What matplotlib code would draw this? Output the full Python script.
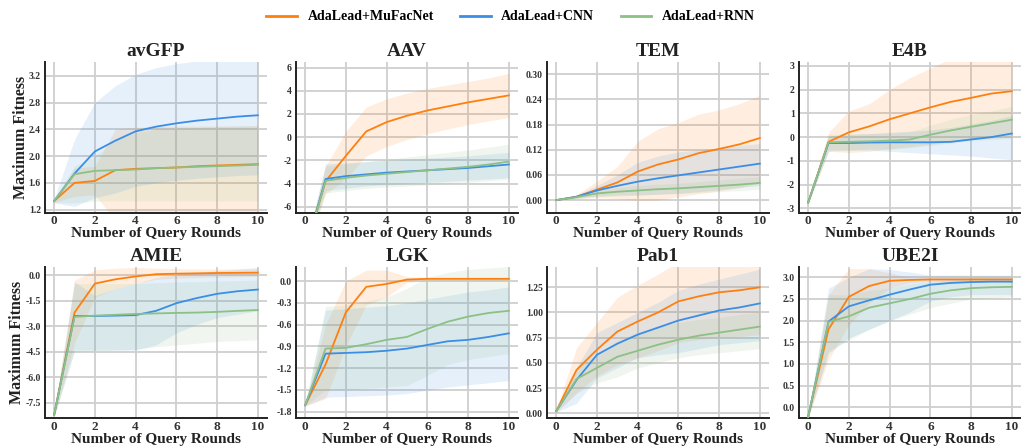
import matplotlib
matplotlib.use("Agg")
import matplotlib.pyplot as plt
from matplotlib.ticker import FormatStrFormatter
import numpy as np

rounds = list(range(11))
series_names = ["AdaLead+MuFacNet", "AdaLead+CNN", "AdaLead+RNN"]
colors = ["#ff7f0e", "#3a8ee6", "#8cc084"]
titles = ["avGFP", "AAV", "TEM", "E4B", "AMIE", "LGK", "Pab1", "UBE2I"]

# ---- avGFP ----
avgfp_muf = [1.33, 1.60, 1.63, 1.79, 1.81, 1.82, 1.83, 1.85, 1.86, 1.87, 1.88]
avgfp_muf_hi = [1.35, 1.82, 1.85, 2.40, 2.43, 2.44, 2.45, 2.45, 2.45, 2.45, 2.45]
avgfp_muf_lo = [1.31, 1.40, 1.42, 1.05, 1.05, 1.05, 1.05, 1.05, 1.05, 1.05, 1.05]
avgfp_cnn = [1.33, 1.74, 2.07, 2.23, 2.37, 2.44, 2.49, 2.53, 2.56, 2.59, 2.61]
avgfp_cnn_hi = [1.36, 2.25, 2.80, 3.05, 3.22, 3.32, 3.38, 3.42, 3.45, 3.48, 3.50]
avgfp_cnn_lo = [1.30, 1.25, 1.38, 1.45, 1.55, 1.60, 1.64, 1.67, 1.69, 1.71, 1.72]
avgfp_rnn = [1.33, 1.73, 1.78, 1.79, 1.80, 1.82, 1.83, 1.84, 1.85, 1.86, 1.87]
avgfp_rnn_hi = [1.35, 1.85, 2.00, 2.25, 2.35, 2.40, 2.42, 2.43, 2.44, 2.45, 2.46]
avgfp_rnn_lo = [1.31, 1.30, 1.33, 1.33, 1.33, 1.33, 1.33, 1.33, 1.33, 1.33, 1.33]

# ---- AAV ----
aav_muf = [-9.8, -3.8, -1.6, 0.5, 1.3, 1.85, 2.3, 2.65, 3.0, 3.3, 3.6]
aav_muf_hi = [-9.6, -2.5, 0.5, 2.6, 3.3, 3.8, 4.2, 4.5, 4.8, 5.1, 5.5]
aav_muf_lo = [-10.0, -4.9, -3.6, -1.6, -0.8, -0.2, 0.3, 0.7, 1.1, 1.4, 1.7]
aav_cnn = [-9.8, -3.6, -3.35, -3.2, -3.05, -2.95, -2.85, -2.75, -2.65, -2.5, -2.35]
aav_cnn_hi = [-9.6, -2.3, -2.2, -2.1, -2.0, -1.9, -1.8, -1.7, -1.6, -1.45, -1.3]
aav_cnn_lo = [-10.0, -4.6, -4.4, -4.2, -4.1, -4.0, -3.9, -3.8, -3.7, -3.6, -3.5]
aav_rnn = [-9.8, -3.75, -3.5, -3.3, -3.15, -3.0, -2.85, -2.7, -2.55, -2.35, -2.1]
aav_rnn_hi = [-9.6, -2.5, -2.3, -2.1, -1.9, -1.7, -1.5, -1.3, -1.1, -0.85, -0.6]
aav_rnn_lo = [-10.0, -4.8, -4.6, -4.4, -4.3, -4.2, -4.1, -4.0, -3.9, -3.75, -3.6]

# ---- TEM ----
tem_muf = [0, 0.008, 0.025, 0.042, 0.068, 0.085, 0.097, 0.112, 0.122, 0.133, 0.148]
tem_muf_hi = [0.001, 0.013, 0.045, 0.08, 0.14, 0.17, 0.185, 0.205, 0.215, 0.23, 0.25]
tem_muf_lo = [0, 0.004, 0.006, 0.004, -0.001, 0.0, 0.008, 0.015, 0.022, 0.03, 0.04]
tem_cnn = [0, 0.008, 0.023, 0.034, 0.044, 0.052, 0.059, 0.066, 0.073, 0.080, 0.087]
tem_cnn_hi = [0.001, 0.012, 0.035, 0.06, 0.09, 0.105, 0.115, 0.12, 0.125, 0.13, 0.135]
tem_cnn_lo = [0, 0.004, 0.01, 0.012, 0.012, 0.014, 0.016, 0.02, 0.025, 0.03, 0.035]
tem_rnn = [0, 0.007, 0.016, 0.020, 0.023, 0.026, 0.028, 0.031, 0.034, 0.037, 0.041]
tem_rnn_hi = [0.001, 0.01, 0.025, 0.03, 0.035, 0.038, 0.04, 0.044, 0.048, 0.052, 0.056]
tem_rnn_lo = [0, 0.004, 0.008, 0.01, 0.012, 0.014, 0.016, 0.018, 0.02, 0.023, 0.026]

# ---- E4B ----
e4b_muf = [-2.75, -0.2, 0.2, 0.45, 0.75, 1.0, 1.25, 1.48, 1.65, 1.83, 1.93]
e4b_muf_hi = [-2.7, 0.2, 1.1, 1.4, 2.0, 2.5, 2.9, 3.3, 3.5, 3.6, 3.7]
e4b_muf_lo = [-2.8, -0.6, -0.65, -0.6, -0.5, -0.4, -0.3, -0.2, -0.1, -0.05, 0.0]
e4b_cnn = [-2.75, -0.25, -0.25, -0.23, -0.22, -0.22, -0.22, -0.2, -0.1, 0.0, 0.15]
e4b_cnn_hi = [-2.7, 0.05, 0.1, 0.15, 0.2, 0.25, 0.3, 0.4, 0.55, 0.7, 0.9]
e4b_cnn_lo = [-2.8, -0.55, -0.55, -0.55, -0.6, -0.65, -0.7, -0.75, -0.8, -0.88, -0.95]
e4b_rnn = [-2.75, -0.22, -0.2, -0.18, -0.15, -0.1, 0.1, 0.28, 0.43, 0.58, 0.73]
e4b_rnn_hi = [-2.7, 0.1, 0.15, 0.15, 0.18, 0.22, 0.5, 0.75, 0.95, 1.1, 1.3]
e4b_rnn_lo = [-2.8, -0.6, -0.55, -0.5, -0.5, -0.45, -0.35, -0.25, -0.15, -0.1, -0.05]

# ---- AMIE ----
amie_muf = [-8.2, -2.2, -0.5, -0.25, -0.08, 0.05, 0.08, 0.1, 0.12, 0.13, 0.14]
amie_muf_hi = [-8.1, -0.3, 0.3, 0.4, 0.45, 0.4, 0.38, 0.36, 0.35, 0.35, 0.35]
amie_muf_lo = [-8.3, -4.0, -1.3, -0.8, -0.5, -0.25, -0.18, -0.15, -0.12, -0.1, -0.08]
amie_cnn = [-8.2, -2.4, -2.4, -2.38, -2.35, -2.1, -1.65, -1.35, -1.1, -0.95, -0.85]
amie_cnn_hi = [-8.1, -0.4, -1.2, -0.8, -0.5, -0.15, 0.05, 0.15, 0.25, 0.35, 0.45]
amie_cnn_lo = [-8.3, -4.4, -4.4, -4.4, -4.4, -4.1, -3.4, -2.9, -2.5, -2.3, -2.1]
amie_rnn = [-8.2, -2.45, -2.38, -2.33, -2.28, -2.25, -2.22, -2.2, -2.16, -2.1, -2.05]
amie_rnn_hi = [-8.1, -0.5, -0.5, -0.5, -0.5, -0.45, -0.4, -0.38, -0.35, -0.32, -0.3]
amie_rnn_lo = [-8.3, -4.5, -4.45, -4.4, -4.35, -4.2, -4.1, -4.0, -3.9, -3.85, -3.8]

# ---- LGK ----
lgk_muf = [-1.71, -1.15, -0.43, -0.08, -0.04, 0.02, 0.03, 0.03, 0.03, 0.03, 0.03]
lgk_muf_hi = [-1.70, -0.6, 0.0, 0.15, 0.15, 0.06, 0.05, 0.05, 0.05, 0.05, 0.05]
lgk_muf_lo = [-1.72, -1.62, -0.9, -0.33, -0.22, -0.02, 0.01, 0.01, 0.01, 0.01, 0.01]
lgk_cnn = [-1.71, -1.0, -0.99, -0.98, -0.96, -0.93, -0.88, -0.83, -0.81, -0.77, -0.72]
lgk_cnn_hi = [-1.70, -0.4, -0.38, -0.36, -0.34, -0.3, -0.25, -0.2, -0.15, -0.12, -0.08]
lgk_cnn_lo = [-1.72, -1.6, -1.59, -1.58, -1.57, -1.55, -1.5, -1.46, -1.43, -1.4, -1.37]
lgk_rnn = [-1.71, -0.93, -0.92, -0.87, -0.81, -0.77, -0.66, -0.56, -0.49, -0.44, -0.41]
lgk_rnn_hi = [-1.70, -0.35, -0.33, -0.28, -0.22, -0.1, 0.05, 0.12, 0.16, 0.18, 0.2]
lgk_rnn_lo = [-1.72, -1.5, -1.5, -1.48, -1.46, -1.44, -1.3, -1.15, -1.08, -1.04, -1.0]

# ---- Pab1 ----
pab1_muf = [0.02, 0.43, 0.63, 0.81, 0.91, 1.0, 1.11, 1.16, 1.2, 1.22, 1.25]
pab1_muf_hi = [0.03, 0.65, 0.9, 1.15, 1.27, 1.38, 1.5, 1.55, 1.6, 1.62, 1.65]
pab1_muf_lo = [0.01, 0.2, 0.37, 0.48, 0.55, 0.62, 0.7, 0.73, 0.75, 0.76, 0.78]
pab1_cnn = [0.02, 0.33, 0.58, 0.69, 0.78, 0.85, 0.92, 0.97, 1.02, 1.05, 1.09]
pab1_cnn_hi = [0.03, 0.45, 0.8, 0.9, 1.0, 1.1, 1.22, 1.28, 1.33, 1.38, 1.43]
pab1_cnn_lo = [0.01, 0.1, 0.35, 0.45, 0.55, 0.58, 0.6, 0.64, 0.68, 0.7, 0.72]
pab1_rnn = [0.02, 0.34, 0.45, 0.56, 0.62, 0.68, 0.73, 0.77, 0.80, 0.83, 0.86]
pab1_rnn_hi = [0.03, 0.45, 0.58, 0.72, 0.8, 0.86, 0.9, 0.93, 0.95, 0.98, 1.0]
pab1_rnn_lo = [0.01, 0.2, 0.3, 0.36, 0.45, 0.5, 0.55, 0.58, 0.6, 0.62, 0.64]

# ---- UBE2I ----
ube2i_muf = [-0.22, 1.8, 2.55, 2.8, 2.92, 2.94, 2.95, 2.95, 2.95, 2.95, 2.95]
ube2i_muf_hi = [-0.2, 2.6, 3.2, 3.2, 3.1, 3.0, 3.0, 3.0, 3.0, 3.0, 3.0]
ube2i_muf_lo = [-0.24, 1.1, 1.9, 2.4, 2.75, 2.88, 2.9, 2.9, 2.9, 2.9, 2.9]
ube2i_cnn = [-0.22, 1.98, 2.33, 2.47, 2.6, 2.72, 2.83, 2.87, 2.89, 2.9, 2.9]
ube2i_cnn_hi = [-0.2, 2.75, 3.0, 3.2, 3.18, 3.12, 3.05, 3.05, 3.05, 3.05, 3.05]
ube2i_cnn_lo = [-0.24, 1.25, 1.6, 1.8, 2.0, 2.2, 2.45, 2.55, 2.6, 2.6, 2.6]
ube2i_rnn = [-0.22, 1.97, 2.1, 2.3, 2.4, 2.5, 2.62, 2.7, 2.75, 2.77, 2.78]
ube2i_rnn_hi = [-0.2, 2.6, 2.6, 2.7, 2.75, 2.85, 2.9, 2.95, 3.0, 3.0, 3.0]
ube2i_rnn_lo = [-0.24, 1.3, 1.55, 1.8, 2.0, 2.15, 2.3, 2.4, 2.5, 2.52, 2.55]

# y-axis ticks per panel
avgfp_yticks = [1.2, 1.6, 2.0, 2.4, 2.8, 3.2]
aav_yticks = [-6, -4, -2, 0, 2, 4, 6]
tem_yticks = [0.00, 0.06, 0.12, 0.18, 0.24, 0.30]
e4b_yticks = [-3, -2, -1, 0, 1, 2, 3]
amie_yticks = [-7.5, -6.0, -4.5, -3.0, -1.5, 0.0]
lgk_yticks = [-1.8, -1.5, -1.2, -0.9, -0.6, -0.3, 0.0]
pab1_yticks = [0.00, 0.25, 0.50, 0.75, 1.00, 1.25]
ube2i_yticks = [0.0, 0.5, 1.0, 1.5, 2.0, 2.5, 3.0]
xticks = [0, 2, 4, 6, 8, 10]

panels = [
    (avgfp_muf, avgfp_muf_lo, avgfp_muf_hi, avgfp_cnn, avgfp_cnn_lo, avgfp_cnn_hi, avgfp_rnn, avgfp_rnn_lo, avgfp_rnn_hi),
    (aav_muf, aav_muf_lo, aav_muf_hi, aav_cnn, aav_cnn_lo, aav_cnn_hi, aav_rnn, aav_rnn_lo, aav_rnn_hi),
    (tem_muf, tem_muf_lo, tem_muf_hi, tem_cnn, tem_cnn_lo, tem_cnn_hi, tem_rnn, tem_rnn_lo, tem_rnn_hi),
    (e4b_muf, e4b_muf_lo, e4b_muf_hi, e4b_cnn, e4b_cnn_lo, e4b_cnn_hi, e4b_rnn, e4b_rnn_lo, e4b_rnn_hi),
    (amie_muf, amie_muf_lo, amie_muf_hi, amie_cnn, amie_cnn_lo, amie_cnn_hi, amie_rnn, amie_rnn_lo, amie_rnn_hi),
    (lgk_muf, lgk_muf_lo, lgk_muf_hi, lgk_cnn, lgk_cnn_lo, lgk_cnn_hi, lgk_rnn, lgk_rnn_lo, lgk_rnn_hi),
    (pab1_muf, pab1_muf_lo, pab1_muf_hi, pab1_cnn, pab1_cnn_lo, pab1_cnn_hi, pab1_rnn, pab1_rnn_lo, pab1_rnn_hi),
    (ube2i_muf, ube2i_muf_lo, ube2i_muf_hi, ube2i_cnn, ube2i_cnn_lo, ube2i_cnn_hi, ube2i_rnn, ube2i_rnn_lo, ube2i_rnn_hi),
]
yticks_all = [avgfp_yticks, aav_yticks, tem_yticks, e4b_yticks,
              amie_yticks, lgk_yticks, pab1_yticks, ube2i_yticks]
ylims = [(1.155, 3.41), (-6.5, 6.5), (-0.03, 0.33), (-3.18, 3.17),
         (-8.4, 0.49), (-1.89, 0.197), (-0.05, 1.454), (-0.254, 3.245)]
yfmts = ["%.1f", "%d", "%.2f", "%d", "%.1f", "%.1f", "%.2f", "%.1f"]

plt.rcParams["font.family"] = ["Liberation Serif", "DejaVu Serif"]
plt.rcParams["font.weight"] = "bold"

W, H = 1021, 448
fig = plt.figure(figsize=(W / 100, H / 100), dpi=100)

lefts = [45, 296, 547, 799]
ax_w = 222
rows = [(61.7, 212.7), (266.7, 418.3)]

handles = []
for i in range(8):
    r, c = divmod(i, 4)
    top, bot = rows[r]
    ax = fig.add_axes([lefts[c] / W, 1 - bot / H, ax_w / W, (bot - top) / H])
    d = panels[i]
    for s in range(3):
        mean, lo, hi = d[3 * s], d[3 * s + 1], d[3 * s + 2]
        ax.fill_between(rounds, lo, hi, color=colors[s], alpha=0.13, linewidth=0, zorder=2)
        ln, = ax.plot(rounds, mean, color=colors[s], lw=1.3, zorder=3, label=series_names[s])
        if i == 0:
            handles.append(ln)
    ax.set_xlim(-0.45, 10.45)
    ax.set_ylim(*ylims[i])
    ax.set_xticks(xticks)
    ax.set_yticks(yticks_all[i])
    ax.yaxis.set_major_formatter(FormatStrFormatter(yfmts[i]))
    ax.grid(True, color="#cfcfcf", lw=1.3, zorder=0)
    ax.set_axisbelow(True)
    for side in ["top", "right"]:
        ax.spines[side].set_visible(False)
    for side in ["left", "bottom"]:
        ax.spines[side].set_color("#222222")
        ax.spines[side].set_linewidth(1.4)
    ax.tick_params(axis="both", length=0)
    ax.tick_params(axis="x", labelsize=9.5, pad=2)
    ax.tick_params(axis="y", labelsize=7, pad=3)
    for lab in ax.get_xticklabels() + ax.get_yticklabels():
        lab.set_fontweight("bold")
        lab.set_color("#333333")
    ax.set_title(titles[i], fontsize=14, fontweight="bold", color="#222222", pad=4)
    ax.set_xlabel("Number of Query Rounds", fontsize=11, fontweight="bold", color="#222222", labelpad=0)
    if c == 0:
        ax.set_ylabel("Maximum Fitness", fontsize=11.5, fontweight="bold", color="#222222", labelpad=0)

leg = fig.legend(handles=handles, labels=series_names, loc="center", bbox_to_anchor=(0.5, 1 - 17 / H),
                 ncol=3, frameon=False, prop={"weight": "bold", "size": 10}, handlelength=2.2,
                 columnspacing=1.9, handletextpad=0.75)
for lh in leg.get_lines():
    lh.set_linewidth(2.0)

fig.savefig("out.png", dpi=100)
